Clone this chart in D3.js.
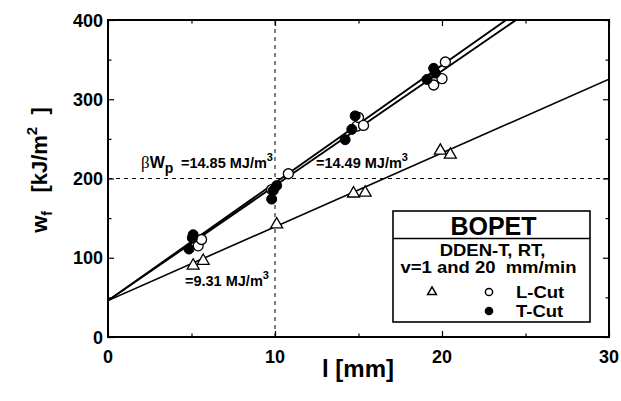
<!DOCTYPE html>
<html><head><meta charset="utf-8">
<script src="https://cdn.jsdelivr.net/npm/d3@7"></script>
<style>html,body{margin:0;padding:0;background:#fff;}svg{display:block;font-family:"Liberation Sans",Arial,sans-serif;font-weight:bold;}</style>
</head><body><svg id="c" width="621" height="401"></svg>
<script>
// Data
const xTicks = [0, 10, 20, 30];
const yTicks = [0, 100, 200, 300, 400];
const triangleX = [5.1, 5.7, 10.1, 14.7, 15.4, 19.9, 20.5];
const triangleY = [90, 96, 142, 181, 182, 235, 230];
const lcutX = [5.4, 5.6, 9.8, 10.8, 14.9, 15.0, 15.3, 19.5, 20.0, 20.2];
const lcutY = [115, 123, 186, 206, 266, 277, 267, 318, 326, 347];
const tcutX = [4.85, 5.05, 5.1, 9.8, 9.9, 10.1, 14.2, 14.6, 14.8, 19.1, 19.5, 19.6];
const tcutY = [111, 125, 129, 174, 185, 191, 249, 262, 279, 325, 339, 333];
const fitIntercept = 46;
const fitSlopes = [14.85, 14.49, 9.31];

const svg = d3.select("#c");
const x = d3.scaleLinear().domain([0, 30]).range([108, 609]);
const y = d3.scaleLinear().domain([0, 400]).range([337, 20]);

svg.append("clipPath").attr("id","clip").append("rect")
  .attr("x",x(0)).attr("y",y(400)).attr("width",x(30)-x(0)).attr("height",y(0)-y(400));

// dashed reference lines
svg.append("line").attr("x1",x(10)).attr("x2",x(10)).attr("y1",y(0)).attr("y2",y(400))
  .attr("stroke","#000").attr("stroke-width",1).attr("stroke-dasharray","4,4");
svg.append("line").attr("x1",x(0)).attr("x2",x(30)).attr("y1",y(200)).attr("y2",y(200))
  .attr("stroke","#000").attr("stroke-width",1).attr("stroke-dasharray","4,4");

// fit lines
const g = svg.append("g").attr("clip-path","url(#clip)");
fitSlopes.forEach((s,i)=>{
  g.append("line").attr("x1",x(0)).attr("y1",y(fitIntercept))
    .attr("x2",x(30)).attr("y2",y(fitIntercept+s*30))
    .attr("stroke","#000").attr("stroke-width", i<2?1.9:1.6);
});

// axes with inward ticks
function addAxis(axis, t, vals, isY){
  const gg = svg.append("g").attr("transform",t).call(axis.tickValues(vals).tickSize(-6).tickFormat(""));
  gg.select(".domain").remove();
  gg.selectAll(".tick line").attr("stroke","#000").attr("stroke-width",1.2).each(function(d){
    const minor = isY ? (d%100!==0) : (d%10!==0);
    if(minor){ const l=d3.select(this); ["x2","y2"].forEach(k=>{const v=+l.attr(k); if(v) l.attr(k, v>0?3.5:-3.5);}); }
  });
}
addAxis(d3.axisBottom(x), `translate(0,${y(0)})`, d3.range(0,31,5), false);
addAxis(d3.axisTop(x), `translate(0,${y(400)})`, d3.range(0,31,5), false);
addAxis(d3.axisLeft(y), `translate(${x(0)},0)`, d3.range(0,401,50), true);
addAxis(d3.axisRight(y), `translate(${x(30)},0)`, d3.range(0,401,50), true);

svg.append("rect").attr("x",x(0)).attr("y",y(400)).attr("width",x(30)-x(0)).attr("height",y(0)-y(400))
  .attr("fill","none").attr("stroke","#000").attr("stroke-width",2);

// tick labels
svg.selectAll(".xl").data(xTicks).join("text").attr("class","xl").attr("x",d=>x(d)).attr("y",363)
  .attr("text-anchor","middle").attr("font-size",18).text(d=>d);
svg.selectAll(".yl").data(yTicks).join("text").attr("class","yl").attr("x",103).attr("y",d=>y(d)+6.5)
  .attr("text-anchor","end").attr("font-size",18).text(d=>d);

// axis titles
svg.append("text").attr("x",358).attr("y",377).attr("text-anchor","middle").attr("font-size",24).text("l [mm]");
const yt = svg.append("text").attr("transform","translate(47,170) rotate(-90)").attr("text-anchor","middle")
  .attr("font-size",22).attr("xml:space","preserve");
yt.append("tspan").text("w");
yt.append("tspan").attr("font-size",14).attr("dy",5).text("f");
yt.append("tspan").attr("dy",-5).text("   [kJ/m");
yt.append("tspan").attr("font-size",15).attr("dy",-10).text("2");
yt.append("tspan").attr("dy",10).text("  ]");

// points
svg.selectAll(".tri").data(triangleX).join("path").attr("class","tri")
  .attr("d", d3.symbol().type(d3.symbolTriangle).size(62))
  .attr("transform",(d,i)=>`translate(${x(d)},${y(triangleY[i])})`)
  .attr("fill","#fff").attr("stroke","#000").attr("stroke-width",1.3);
svg.selectAll(".lc").data(lcutX).join("circle").attr("class","lc")
  .attr("cx",d=>x(d)).attr("cy",(d,i)=>y(lcutY[i])).attr("r",5)
  .attr("fill","#fff").attr("stroke","#000").attr("stroke-width",1.3);
svg.selectAll(".tc").data(tcutX).join("circle").attr("class","tc")
  .attr("cx",d=>x(d)).attr("cy",(d,i)=>y(tcutY[i])).attr("r",5)
  .attr("fill","#000").attr("stroke","#000").attr("stroke-width",1);

// annotations
function ann(xp, yp, parts){
  const t = svg.append("text").attr("x",xp).attr("y",yp).attr("font-size",14.5).attr("xml:space","preserve");
  parts.forEach(p=>{const s=t.append("tspan").text(p.t); if(p.dy) s.attr("dy",p.dy); if(p.fs) s.attr("font-size",p.fs); if(p.x!=null) s.attr("x",p.x); if(p.ff) s.attr("font-family",p.ff).attr("font-weight","normal");});
  return t;
}
ann(141,168,[{t:"β",ff:"Liberation Serif",fs:17},{t:"W",fs:16},{t:"p",dy:5,fs:14},{t:"=14.85 MJ/m",dy:-5,x:181},{t:"3",dy:-7,fs:11}]);
ann(316,168,[{t:"=14.49 MJ/m"},{t:"3",dy:-7,fs:11}]);
ann(185,286,[{t:"=9.31 MJ/m"},{t:"3",dy:-7,fs:11}]);

// legend
const L = {x0:393, y0:211, x1:590, y1:322};
svg.append("rect").attr("x",L.x0).attr("y",L.y0).attr("width",L.x1-L.x0).attr("height",L.y1-L.y0)
  .attr("fill","#fff").attr("stroke","#000").attr("stroke-width",1.6);
svg.append("line").attr("x1",L.x0).attr("x2",L.x1).attr("y1",238.5).attr("y2",238.5).attr("stroke","#000").attr("stroke-width",1.5);
const cx = (L.x0+L.x1)/2;
function ltext(xp, yp, txt, fs, anchor, sx){
  return svg.append("text").attr("transform",`translate(${xp},${yp}) scale(${sx},1)`)
    .attr("text-anchor",anchor).attr("font-size",fs).attr("xml:space","preserve").text(txt);
}
ltext(cx+2, 235, "BOPET", 25, "middle", 1);
ltext(cx+1, 255.5, "DDEN-T, RT,", 16.5, "middle", 1.12);
ltext(cx-3, 273, "v=1 and 20  mm/min", 16.5, "middle", 1.12);
svg.append("path").attr("d",d3.symbol().type(d3.symbolTriangle).size(34)).attr("transform","translate(432,292)")
  .attr("fill","#fff").attr("stroke","#000").attr("stroke-width",1.5);
svg.append("circle").attr("cx",489).attr("cy",292).attr("r",3.6).attr("fill","#fff").attr("stroke","#000").attr("stroke-width",1.5);
svg.append("circle").attr("cx",489).attr("cy",311).attr("r",4.3).attr("fill","#000");
ltext(516, 297.5, "L-Cut", 16.5, "start", 1.12);
ltext(516, 316.5, "T-Cut", 16.5, "start", 1.12);
</script></body></html>
